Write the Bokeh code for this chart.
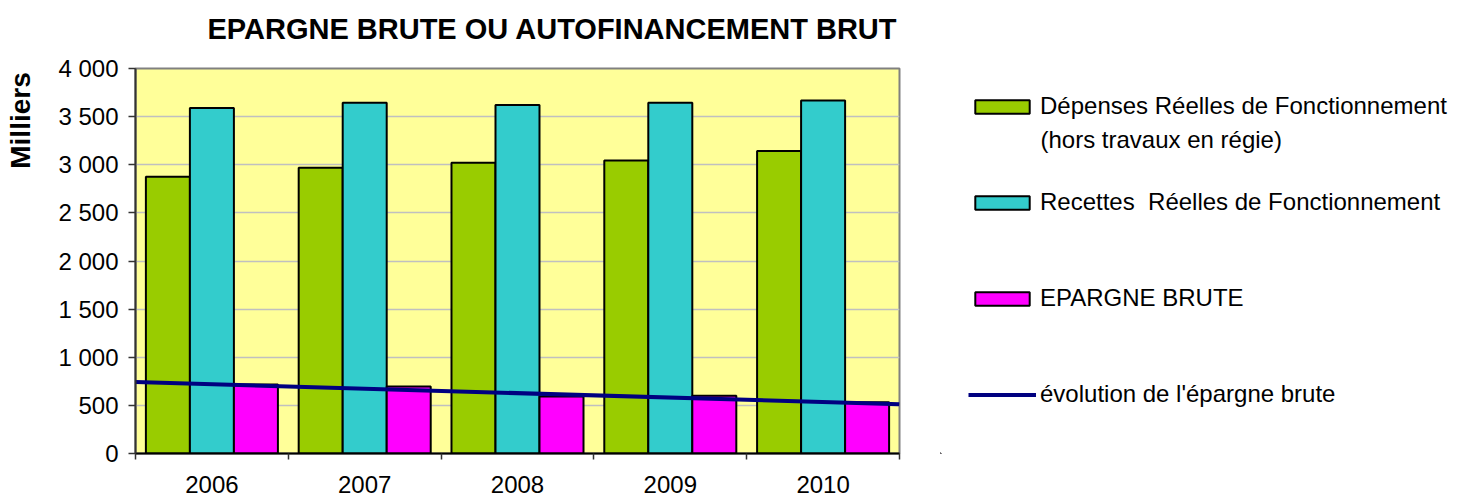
import numpy as np
from bokeh.plotting import figure
from bokeh.layouts import row
from bokeh.models import ColumnDataSource, Legend, LegendItem, FixedTicker, Range1d, Label
from bokeh.embed import file_html
from bokeh.resources import INLINE

# ---- data ----
years = ["2006", "2007", "2008", "2009", "2010"]
depenses = [2876, 2970, 3020, 3045, 3142]
recettes = [3590, 3645, 3620, 3645, 3668]
epargne = [716, 695, 592, 600, 532]
y_ticks = [0, 500, 1000, 1500, 2000, 2500, 3000, 3500, 4000]
y_tick_labels = ["0", "500", "1 000", "1 500", "2 000", "2 500", "3 000", "3 500", "4 000"]
series_labels = ["Dépenses Réelles de Fonctionnement", "Recettes  Réelles de Fonctionnement",
                 "EPARGNE BRUTE", "évolution de l'épargne brute"]
series_sublabel = "(hors travaux en régie)"
title_text = "EPARGNE BRUTE OU AUTOFINANCEMENT BRUT"
y_title = "Milliers"

FONT = "Liberation Sans"
C_DEP = "#99CC00"
C_REC = "#33CCCC"
C_EP = "#FF00FF"
C_LINE = "#000080"

xpos = np.arange(1, len(years) + 1)
bw = 0.288
src = ColumnDataSource(dict(
    x_dep=xpos - bw, x_rec=xpos, x_ep=xpos + bw,
    dep=depenses, rec=recettes, ep=epargne,
))

p = figure(width=940, height=497, output_backend="svg", toolbar_location=None, title=None,
           x_range=Range1d(0.5, len(years) + 0.5), y_range=Range1d(0, 4000),
           min_border_left=135, min_border_right=41, min_border_top=68, min_border_bottom=44,
           background_fill_color="#FFFF99", border_fill_color="white")

p.outline_line_color = "#808080"
p.outline_line_width = 2

kw = dict(width=bw, line_color="black", line_width=2, source=src)
r_dep = p.vbar(x="x_dep", top="dep", fill_color=C_DEP, **kw)
r_rec = p.vbar(x="x_rec", top="rec", fill_color=C_REC, **kw)
r_ep = p.vbar(x="x_ep", top="ep", fill_color=C_EP, **kw)

# linear trend of epargne brute across the plot area
slope, intercept = np.polyfit(xpos, epargne, 1)
x0, x1 = p.x_range.start, p.x_range.end
r_line = p.line([x0, x1], [slope * x0 + intercept, slope * x1 + intercept],
                line_color=C_LINE, line_width=4)

# axes
p.xgrid.grid_line_color = None
p.ygrid.grid_line_color = "#C0C0C0"
p.ygrid.grid_line_width = 1.5
p.ygrid.ticker = FixedTicker(ticks=y_ticks)

p.yaxis.ticker = FixedTicker(ticks=y_ticks, minor_ticks=[])
p.yaxis.major_label_overrides = {t: l for t, l in zip(y_ticks, y_tick_labels)}
p.yaxis.major_tick_out = 7
p.yaxis.major_tick_in = 0
p.yaxis.major_label_standoff = 10
p.yaxis.major_label_text_font = FONT
p.yaxis.major_label_text_font_size = "24px"
p.yaxis.major_label_text_color = "black"
p.yaxis.axis_line_color = "#333333"
p.yaxis.axis_line_width = 2
p.yaxis.major_tick_line_color = "#333333"
p.yaxis.major_tick_line_width = 1.5

p.xaxis.ticker = FixedTicker(ticks=list(xpos), minor_ticks=list(np.arange(0.5, len(years) + 1, 1.0)))
p.xaxis.major_label_overrides = {int(x): y for x, y in zip(xpos, years)}
p.xaxis.major_tick_out = 0
p.xaxis.major_tick_in = 0
p.xaxis.minor_tick_out = 6
p.xaxis.minor_tick_in = 0
p.xaxis.minor_tick_line_color = "#333333"
p.xaxis.minor_tick_line_width = 1.5
p.xaxis.major_label_standoff = 16
p.xaxis.major_label_text_font = FONT
p.xaxis.major_label_text_font_size = "24px"
p.xaxis.major_label_text_color = "black"
p.xaxis.axis_line_color = "black"
p.xaxis.axis_line_width = 2

# chart title and y-axis title, as labels in the side panels
p.add_layout(Label(x=72, y=40, x_units="screen", y_units="screen", text=title_text,
                   text_align="left", text_baseline="alphabetic", text_font=FONT,
                   text_font_size="29px", text_font_style="bold", text_color="black"), "above")
p.add_layout(Label(x=-4, y=333, x_units="screen", y_units="screen", text=y_title,
                   angle=np.pi / 2, text_align="center", text_baseline="middle", text_font=FONT,
                   text_font_size="28px", text_font_style="bold", text_color="black"), "left")

# ---- legend panel (separate canvas to the right) ----
pl = figure(width=520, height=497, output_backend="svg", toolbar_location=None,
            x_range=Range1d(0, 1), y_range=Range1d(0, 1),
            x_axis_location=None, y_axis_location=None, min_border=0,
            outline_line_color=None, background_fill_color="white", border_fill_color="white")
pl.grid.visible = False
# proxy glyphs for the legend keys (placed outside the visible range)
lkw = dict(x=[-5], top=[-1], bottom=[-2], width=0.1, line_color="black", line_width=2)
l_dep = pl.vbar(fill_color=C_DEP, **lkw)
l_rec = pl.vbar(fill_color=C_REC, **lkw)
l_ep = pl.vbar(fill_color=C_EP, **lkw)
l_line = pl.line(x=[-5, -4], y=[-1, -1], line_color=C_LINE, line_width=4)

legend = Legend(items=[LegendItem(label=lab, renderers=[r])
                       for lab, r in zip(series_labels, [l_dep, l_rec, l_ep, l_line])],
                location=(28, 45), glyph_width=68, glyph_height=17, label_standoff=4, spacing=68,
                padding=0, margin=0, border_line_color=None, background_fill_alpha=0,
                label_text_font_size="24px", label_text_font=FONT, label_text_color="black",
                label_height=28)
pl.add_layout(legend)
pl.add_layout(Label(x=100, y=314, x_units="screen", y_units="screen", text=series_sublabel,
                    text_align="left", text_baseline="alphabetic", text_font=FONT,
                    text_font_size="24px", text_color="black"))

layout = row(p, pl)
open("out.html", "w").write(file_html(layout, INLINE))
